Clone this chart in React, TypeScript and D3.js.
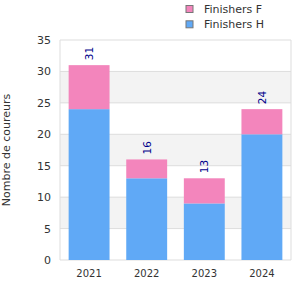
import * as d3 from 'd3';

const years = ['2021', '2022', '2023', '2024'];
const finishersH = [24, 13, 9, 20];
const finishersF = [7, 3, 4, 4];
const yTicks = [0, 5, 10, 15, 20, 25, 30, 35];

const W = 300;
const H = 300;
const margin = { top: 40, right: 9, bottom: 40, left: 60 };
const blue = '#60a9f6';
const pink = '#f385bc';
const font = 'DejaVu Sans, Verdana, sans-serif';

export default function App() {
  const x = d3
    .scaleBand<string>()
    .domain(years)
    .range([margin.left, W - margin.right])
    .paddingInner(0.29)
    .paddingOuter(0.15);
  const y = d3
    .scaleLinear()
    .domain([0, 35])
    .range([H - margin.bottom, margin.top]);

  const rows = years.map((yr, i) => ({
    year: yr,
    h: finishersH[i],
    f: finishersF[i],
    total: finishersH[i] + finishersF[i],
  }));

  // shaded bands 5-10, 15-20, 25-30
  const bands = yTicks.slice(0, -1).filter((t) => t % 10 === 5);

  return (
    <svg
      width={W}
      height={H}
      style={{ position: 'absolute', left: 0, top: 0 }}
      fontFamily={font}
    >
      <rect width={W} height={H} fill="#fff" />
      {bands.map((t) => (
        <rect
          key={t}
          x={margin.left}
          width={W - margin.right - margin.left}
          y={y(t + 5)}
          height={y(t) - y(t + 5)}
          fill="#f3f3f3"
        />
      ))}
      {yTicks.map((t) => (
        <line
          key={t}
          x1={margin.left}
          x2={W - margin.right}
          y1={y(t)}
          y2={y(t)}
          stroke="#dddddd"
        />
      ))}
      <line x1={margin.left} x2={margin.left} y1={y(0)} y2={y(35)} stroke="#dddddd" />
      <line x1={W - margin.right} x2={W - margin.right} y1={y(0)} y2={y(35)} stroke="#dddddd" />
      {rows.map((d) => (
        <g key={d.year}>
          <rect x={x(d.year)} width={x.bandwidth()} y={y(d.h)} height={y(0) - y(d.h)} fill={blue} />
          <rect x={x(d.year)} width={x.bandwidth()} y={y(d.total)} height={y(d.h) - y(d.total)} fill={pink} />
          <text
            transform={`translate(${(x(d.year) ?? 0) + x.bandwidth() / 2 + 4},${y(d.total) - 5}) rotate(-90)`}
            fontSize={10.5}
            fill="#00008b"
          >
            {d.total}
          </text>
          <text
            x={(x(d.year) ?? 0) + x.bandwidth() / 2}
            y={H - margin.bottom + 17}
            textAnchor="middle"
            fontSize={10}
            fill="#333"
          >
            {d.year}
          </text>
        </g>
      ))}
      {yTicks.map((t) => (
        <text key={t} x={51} y={y(t) + 4} textAnchor="end" fontSize={11} fill="#333">
          {t}
        </text>
      ))}
      <text
        transform={`translate(10,${(y(0) + y(35)) / 2}) rotate(-90)`}
        textAnchor="middle"
        fontSize={11}
        fill="#333"
      >
        Nombre de coureurs
      </text>
      {[
        { label: 'Finishers F', color: pink },
        { label: 'Finishers H', color: blue },
      ].map((l, i) => (
        <g key={l.label} transform={`translate(186,${5.5 + i * 15.3})`}>
          <rect width={7} height={7} fill={l.color} stroke="#777" strokeWidth={1} />
          <text x={18} y={7.5} fontSize={11} fill="#333">
            {l.label}
          </text>
        </g>
      ))}
    </svg>
  );
}
